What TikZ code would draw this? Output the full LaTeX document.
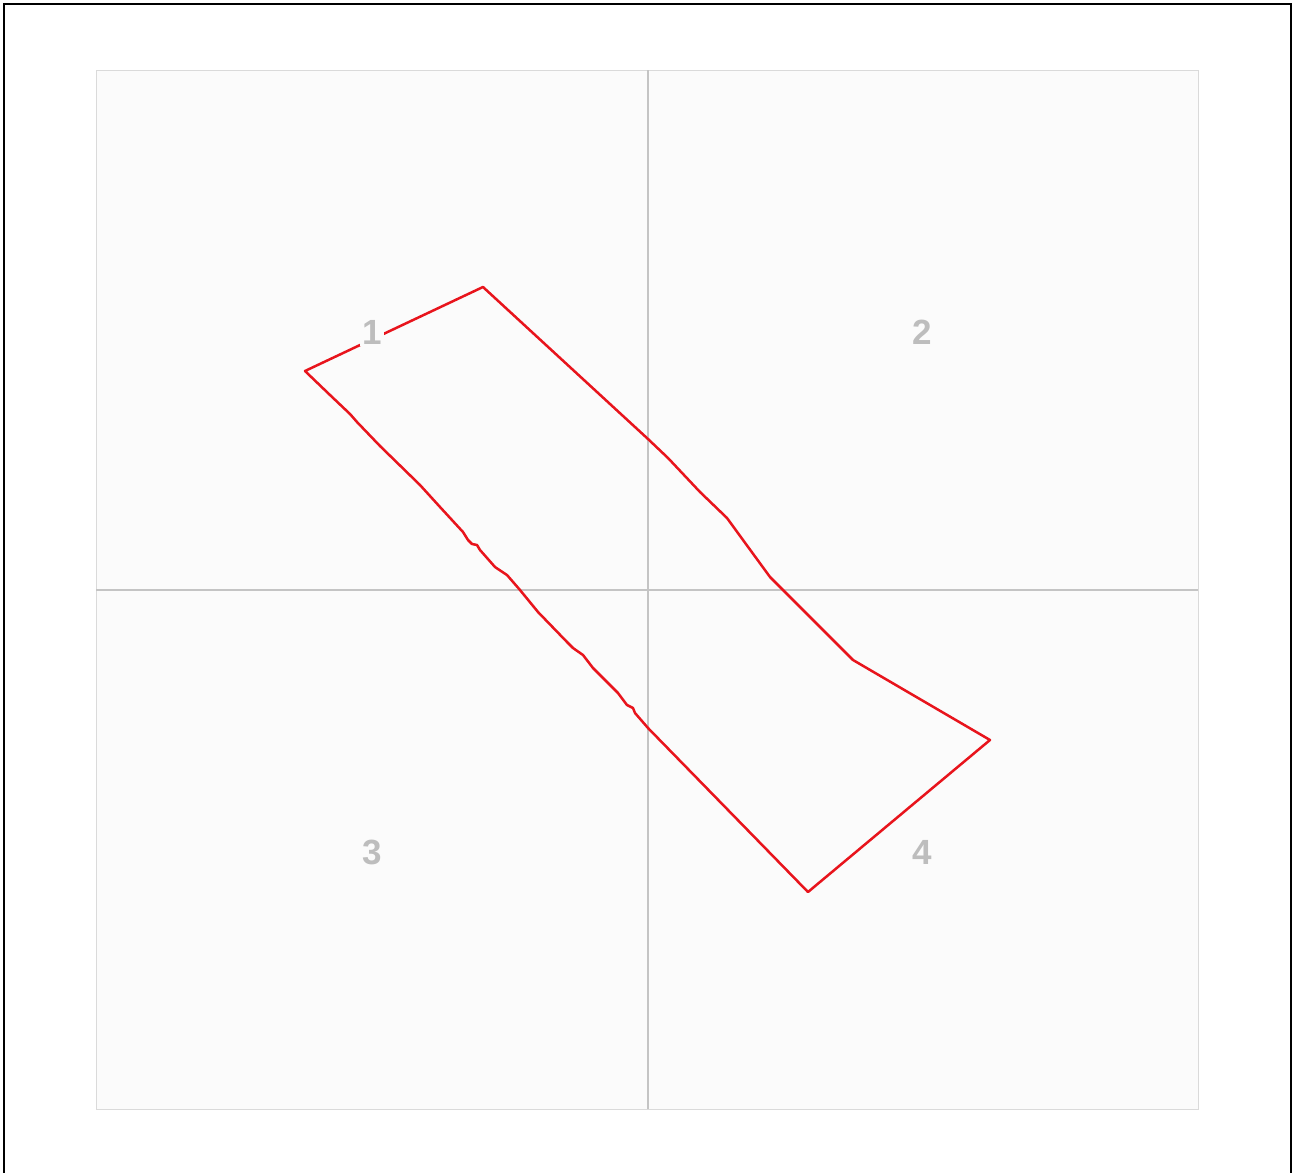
\documentclass[tikz,border=0pt]{standalone}
\usepackage{fontspec}
\setmainfont{Liberation Sans}
\usepackage{tikz}
\usetikzlibrary{positioning}

\definecolor{gridgray}{HTML}{C4C4C4}
\definecolor{boxgray}{HTML}{DADADA}
\definecolor{labgray}{HTML}{BDBDBD}
\definecolor{plotbg}{HTML}{FBFBFB}
\definecolor{tracered}{HTML}{E8141C}

\begin{document}
\begin{tikzpicture}[
        x=0.5pt, y=-0.5pt,
        quadlabel/.style={text=labgray, font=\fontsize{17.5}{17.5}\selectfont\bfseries,
          fill=plotbg, inner sep=1pt},
        trace/.style={draw=tracered, line width=1.25pt, line join=round},
    ]
        \useasboundingbox (0,0) rectangle (1298,1173);
        % frame
        \draw[line width=1.1pt] (4,1173) -- (4,4) -- (1291,4) -- (1291,1173);

        % plot area and axes
        \draw[boxgray, fill=plotbg, line width=0.5pt] (96,70) rectangle (1198,1109);
        \coordinate (xl) at (96,590);
        \coordinate (xr) at (1198,590);
        \coordinate (yt) at (648,70);
        \coordinate (yb) at (648,1109);
        \draw[gridgray, line width=1pt] (xl) -- (xr);
        \draw[gridgray, line width=1pt] (yt) -- (yb);

        % outline
        \draw[trace] (305,371) -- (483,287) -- (648,439) -- (668,458) -- (700,492)
          -- (727,518) -- (743,540) -- (770,577) -- (787,594) -- (853,660)
          -- (990,740) -- (808,892) -- (648,728) -- (635,713) -- (633,708)
          -- (627,705) -- (618,693) -- (593,668) -- (583,655) -- (573,648)
          -- (567,642) -- (538,612) -- (520,590) -- (507,575) -- (495,567)
          -- (480,550) -- (477,545) -- (472,544) -- (468,540) -- (463,532)
          -- (440,507) -- (420,485) -- (380,446) -- (357,422) -- (350,414)
          -- (330,395) -- cycle;

        % quadrant numbers
        \node[quadlabel] (q1) at (372,332) {1};
        \node[quadlabel] (q2) at (922,332) {2};
        \node[quadlabel] (q3) at (372,852) {3};
        \node[quadlabel] (q4) at (922,852) {4};
    \end{tikzpicture}
\end{document}
